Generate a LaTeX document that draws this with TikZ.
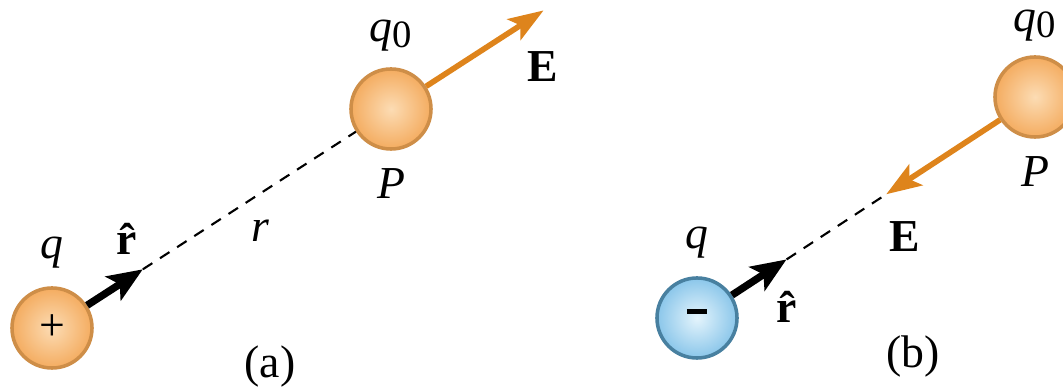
\documentclass[tikz,border=0pt]{standalone}
\usepackage{fontspec}
\setmainfont{Liberation Serif}
\usetikzlibrary{arrows.meta, positioning, calc}
\definecolor{ballin}{RGB}{252,220,180}
\definecolor{ballout}{RGB}{244,172,96}
\definecolor{ballrim}{RGB}{206,142,72}
\definecolor{bluein}{RGB}{228,244,252}
\definecolor{blueout}{RGB}{138,198,234}
\definecolor{bluerim}{RGB}{72,128,160}
\definecolor{efield}{RGB}{222,132,28}
\tikzset{
  ball/.style={circle, draw, line width=1pt, minimum size=0.8cm,
               inner sep=0pt, font=\fontsize{13}{14}\selectfont},
  posball/.style={ball, draw=ballrim, inner color=ballin, outer color=ballout},
  negball/.style={ball, draw=bluerim, inner color=bluein, outer color=blueout},
  lbl/.style={font=\fontsize{13}{15}\selectfont, inner sep=1pt},
  rarr/.style={-{Stealth[length=10pt, width=8pt, inset=2.2pt]}, line width=2.1pt},
  earr/.style={-{Stealth[length=10pt, width=7pt, inset=2.2pt]}, line width=1.6pt, draw=efield},
  dline/.style={dash pattern=on 3.2pt off 2.6pt, line width=0.6pt},
}
\newcommand{\qnull}{\textit{q}\raisebox{-0.3ex}{\fontsize{11}{12}\selectfont 0}}
\begin{document}
\begin{tikzpicture}[x=0.01cm, y=0.01cm]
  \clip (0,0) rectangle (1063,388);
  % (a) positive source charge
  \node[posball] (chargeA) at (52,60) {+};
  \node[posball] (testA) at (391,279) {};
  \coordinate (rtipA) at ($(chargeA)!0.268!(testA)$);
  \coordinate (etipA) at ($(chargeA)!1.45!(testA)$);
  \draw[dline] (rtipA) -- (testA);
  \draw[rarr] (chargeA) -- (rtipA);
  \draw[earr] (testA) -- (etipA);
  \node[lbl, above=0.14cm of chargeA] (qA) {\textit{q}};
  \node[lbl, above=0.12cm of testA] (qzA) {\qnull};
  \node[lbl, below=0.14cm of testA] (pA) {\textit{P}};
  \node[lbl] (rhatA) at (130,149) {\textbf{\^{r}}};
  \node[lbl] (rA) at (260,157) {\textit{r}};
  \node[lbl] (eA) at (543,321) {\textbf{E}};
  \node[lbl] (capA) at (270,21) {(a)};
  % (b) negative source charge
  \node[negball] (chargeB) at (697,70) {\rule[0.6ex]{0.2cm}{0.045cm}};
  \node[posball] (testB) at (1035,291) {};
  \coordinate (rtipB) at ($(chargeB)!0.265!(testB)$);
  \coordinate (etipB) at ($(testB)!0.44!(chargeB)$);
  \draw[dline] (rtipB) -- (etipB);
  \draw[rarr] (chargeB) -- (rtipB);
  \draw[earr] (testB) -- (etipB);
  \node[lbl, above=0.14cm of chargeB] (qB) {\textit{q}};
  \node[lbl, above=0.10cm of testB] (qzB) {\qnull};
  \node[lbl, below=0.14cm of testB] (pB) {\textit{P}};
  \node[lbl] (rhatB) at (790,81) {\textbf{\^{r}}};
  \node[lbl] (eB) at (905,151) {\textbf{E}};
  \node[lbl] (capB) at (913,31) {(b)};
\end{tikzpicture}
\end{document}
